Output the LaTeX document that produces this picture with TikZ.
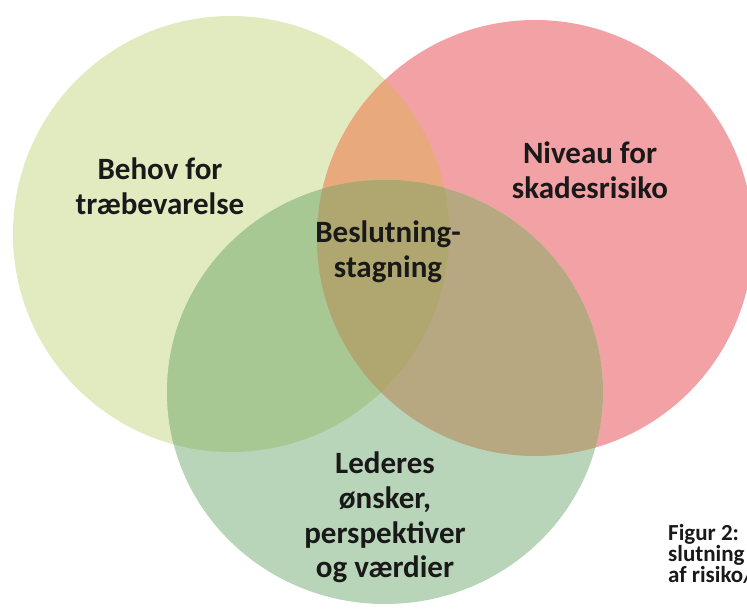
\documentclass[tikz,border=0pt]{standalone}
\usepackage{fontspec}
\setmainfont{Carlito}
\definecolor{cY}{HTML}{E2EABF}
\definecolor{cR}{HTML}{F2A1A5}
\definecolor{cG}{HTML}{B8D5B9}
\definecolor{cYR}{HTML}{E8A97C}
\definecolor{cYG}{HTML}{A7C892}
\definecolor{cRG}{HTML}{B8A882}
\definecolor{cYRG}{HTML}{B0A66F}
\tikzset{
  lbl/.style={align=center, font=\fontsize{31}{34.7}\selectfont\bfseries, text=black!90, inner sep=0pt},
  captxt/.style={align=left, font=\fontsize{23}{20}\selectfont\bfseries, text=black!90, inner sep=0pt, anchor=north west},
}
\begin{document}
\begin{tikzpicture}[x=1pt,y=-1pt]
\useasboundingbox (0,0) rectangle (747,612);
\fill[white] (0,0) rectangle (747,612);
\def\cY{(231,234) circle (218)}
\def\cR{(535,238) circle (218)}
\def\cG{(385,392) ellipse [x radius=218, y radius=212]}
\fill[cY] \cY;
\fill[cR] \cR;
\fill[cG] \cG;
\begin{scope}\clip \cY; \fill[cYR] \cR; \end{scope}
\begin{scope}\clip \cY; \fill[cYG] \cG; \end{scope}
\begin{scope}\clip \cR; \fill[cRG] \cG; \end{scope}
\begin{scope}\clip \cY; \clip \cR; \fill[cYRG] \cG; \end{scope}
\node[lbl] (behov) at (160,186) {Behov for\\træbevarelse};
\node[lbl] (niveau) at (590,170) {Niveau for\\skadesrisiko};
\node[lbl] (beslut) at (388,252) {Beslutning-\\stagning};
\node[lbl] (leder) at (385,517.5) {Lederes\\ønsker,\\perspektiver\\og værdier};
\node[captxt] (figur) at (668,524) {Figur 2:\\slutning\\af risiko/};
\end{tikzpicture}
\end{document}
